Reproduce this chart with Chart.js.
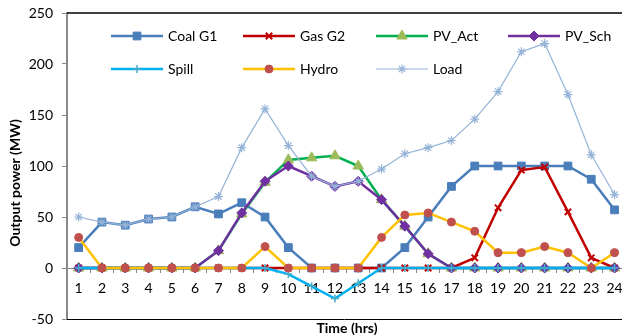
<!DOCTYPE html>
<html>
<head>
<meta charset="utf-8">
<script src="https://cdn.jsdelivr.net/npm/chart.js@4.4.0/dist/chart.umd.min.js"></script>
<style>
  html, body { margin: 0; padding: 0; background: #fff; }
</style>
</head>
<body>
<canvas id="chart" width="622" height="336"></canvas>
<script>
// hours on the x axis
const hours = [1,2,3,4,5,6,7,8,9,10,11,12,13,14,15,16,17,18,19,20,21,22,23,24];
const yTicks = [-50, 0, 50, 100, 150, 200, 250];

// output power (MW)
const coalG1 = [20,45,42,48,50,60,53,64,50,20,0,0,0,0,20,50,80,100,100,100,100,100,87,57];
const gasG2  = [0,0,0,0,0,0,0,0,0,0,0,0,0,0,0,0,0,10,59,96,99,55,10,0];
const pvAct  = [0,0,0,0,0,0,17,53,84,106,108,110,100,67,41,14,0,0,0,0,0,0,0,0];
const pvSch  = [0,0,0,0,0,0,17,54,85,100,90,80,85,67,41,14,0,0,0,0,0,0,0,0];
const spill  = [0,0,0,0,0,0,0,0,0,-6,-18,-30,-15,0,0,0,0,0,0,0,0,0,0,0];
const hydro  = [30,0,0,0,0,0,0,0,21,0,0,0,0,30,52,54,45,36,15,15,21,15,0,15];
const load   = [50,45,42,48,50,60,70,118,156,120,90,80,85,97,112,118,125,146,173,212,220,170,111,72];

const FONT = 'Lato';

function series(label, values, line, marker, style, radius, width, mw) {
  return {
    label: label,
    data: values.map((v, i) => ({ x: hours[i], y: v })),
    borderColor: line,
    borderWidth: width,
    pointStyle: style,
    pointRadius: radius,
    pointHoverRadius: radius,
    pointBackgroundColor: marker,
    pointBorderColor: marker,
    pointBorderWidth: mw,
    tension: 0
  };
}

const datasets = [
  series('Coal G1', coalG1, '#4a7ebb', '#4a7ebb', 'rect', 5.5, 2.5, 1),
  series('Gas G2', gasG2, '#c00000', '#c00000', 'crossRot', 4.5, 2.5, 2),
  series('PV_Act', pvAct, '#00b050', '#9bbb59', 'triangle', 6, 2.5, 1),
  series('PV_Sch', pvSch, '#7030a0', '#7030a0', 'rectRot', 5, 2.5, 1),
  series('Spill', spill, '#00b0f0', '#4bacc6', 'cross', 4, 2.5, 1.5),
  series('Hydro', hydro, '#ffc000', '#c0504d', 'circle', 4, 2.5, 1),
  series('Load', load, '#95b3d7', '#95b3d7', 'star', 4.5, 1.2, 1.2)
];
// later series sit on top, like the original
datasets.forEach((d, i) => { d.order = datasets.length - i; });

const extras = {
  id: 'extras',
  afterDraw(chart) {
    const ctx = chart.ctx;
    const a = chart.chartArea;
    ctx.save();
    // frame lines top and bottom
    ctx.strokeStyle = '#000';
    ctx.lineWidth = 1.5;
    ctx.beginPath(); ctx.moveTo(a.left, a.top); ctx.lineTo(a.right, a.top); ctx.stroke();
    ctx.lineWidth = 1;
    ctx.beginPath(); ctx.moveTo(a.left, a.bottom + 0.5); ctx.lineTo(a.right, a.bottom + 0.5); ctx.stroke();

    // axis titles
    ctx.fillStyle = '#000';
    ctx.font = 'bold 14px ' + FONT;
    ctx.textAlign = 'center';
    ctx.textBaseline = 'middle';
    ctx.fillText('Time (hrs)', 347, 328);
    ctx.save();
    ctx.translate(15, 183);
    ctx.rotate(-Math.PI / 2);
    ctx.fillText('Output power (MW)', 0, 0);
    ctx.restore();

    // legend, 4 per row
    const cols = [111, 243, 376, 508];
    const rows = [36, 69];
    ctx.font = '14px ' + FONT;
    ctx.textAlign = 'left';
    chart.data.datasets.forEach((ds, i) => {
      const x = cols[i % 4];
      const y = rows[Math.floor(i / 4)];
      ctx.strokeStyle = ds.borderColor;
      ctx.lineWidth = ds.borderWidth;
      ctx.beginPath(); ctx.moveTo(x, y); ctx.lineTo(x + 52, y); ctx.stroke();
      ctx.fillStyle = ds.pointBackgroundColor;
      ctx.strokeStyle = ds.pointBorderColor;
      ctx.lineWidth = ds.pointBorderWidth;
      Chart.helpers.drawPoint(ctx, { pointStyle: ds.pointStyle, radius: ds.pointRadius, borderWidth: ds.pointBorderWidth, rotation: 0 }, x + 26, y);
      ctx.fillStyle = '#000';
      ctx.fillText(ds.label, x + 57, y);
    });
    ctx.restore();
  }
};

new Chart(document.getElementById('chart'), {
  type: 'line',
  data: { datasets: datasets },
  options: {
    responsive: false,
    animation: false,
    layout: { autoPadding: false, padding: { top: 13, bottom: 17, left: 0, right: 0 } },
    plugins: { legend: { display: false }, tooltip: { enabled: false } },
    scales: {
      x: {
        type: 'linear',
        min: 0.5,
        max: 24.32,
        position: { y: 0 },
        afterBuildTicks: s => { s.ticks = hours.map(h => ({ value: h })); },
        afterFit: s => { s.paddingLeft = 0; s.paddingRight = 0; },
        grid: { drawOnChartArea: false, offset: true, tickLength: 4, color: '#888' },
        border: { color: '#888', width: 1 },
        ticks: { autoSkip: false, maxRotation: 0, padding: 8, color: '#000', font: { family: FONT, size: 14 } }
      },
      y: {
        min: -50,
        max: 250,
        afterBuildTicks: s => { s.ticks = yTicks.map(v => ({ value: v })); },
        afterFit: s => { s.width = 67; s.paddingTop = 0; s.paddingBottom = 0; },
        grid: { drawOnChartArea: false, tickLength: 5, color: '#888' },
        border: { color: '#888', width: 2 },
        ticks: { padding: 9, color: '#000', font: { family: FONT, size: 14, lineHeight: 0.6 } }
      }
    }
  },
  plugins: [extras]
});
</script>
</body>
</html>
